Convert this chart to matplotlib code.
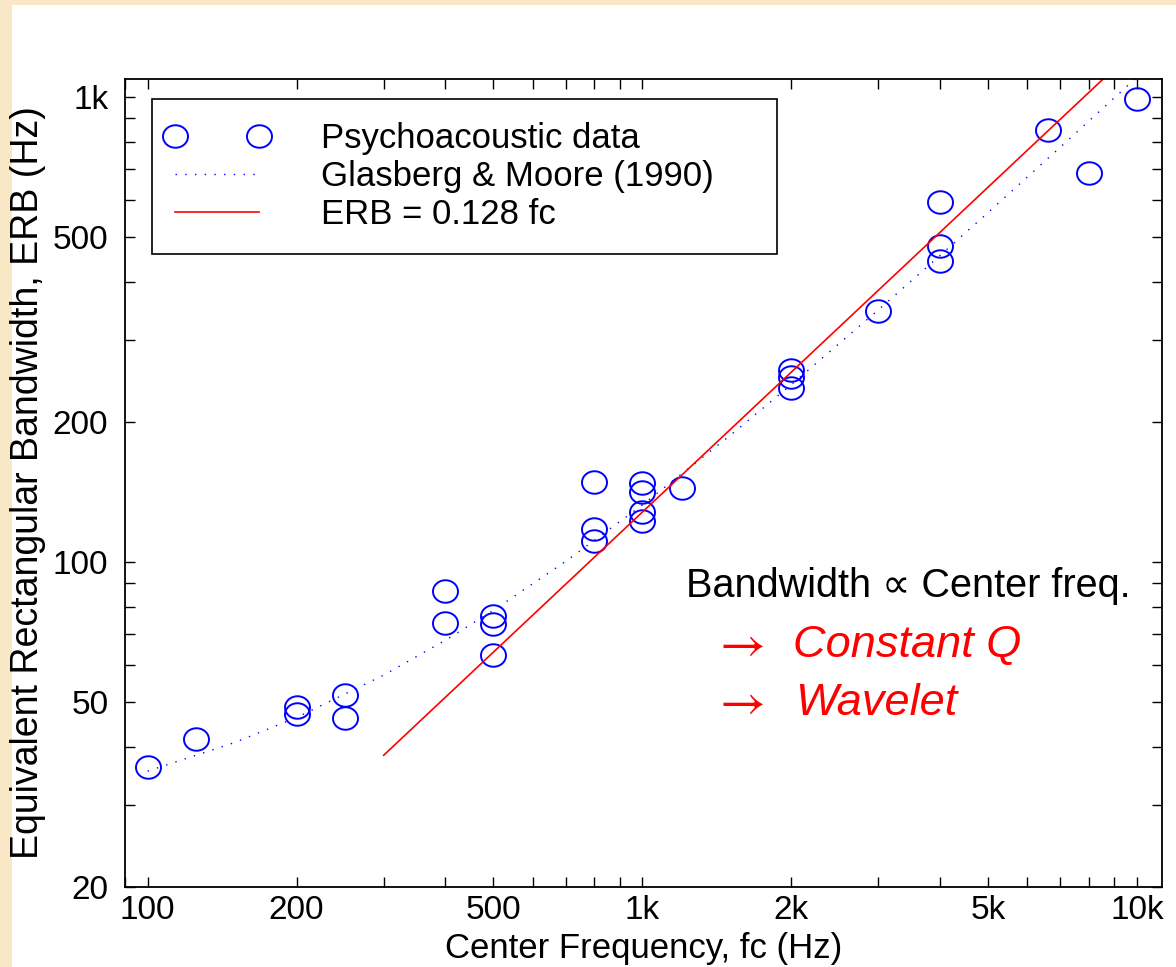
import matplotlib
matplotlib.use("Agg")
import matplotlib.pyplot as plt
import numpy as np
from matplotlib.patches import Rectangle
from matplotlib.path import Path
from matplotlib.lines import Line2D
from matplotlib.legend_handler import HandlerLine2D

plt.rcParams['font.family'] = ['Liberation Sans', 'DejaVu Sans']

# psychoacoustic ERB measurements (Hz)
data_fc = [100, 125, 200, 200, 250, 250, 400, 400, 500, 500, 500,
           800, 800, 800, 1000, 1000, 1000, 1000, 1200,
           2000, 2000, 2000, 3000, 4000, 4000, 4000, 6600, 8000, 10000]
data_erb = [36.2, 41.6, 48.8, 47.1, 51.7, 46.2, 86.6, 73.9, 76.5, 73.5, 63.1,
            148.6, 117.8, 111.0, 147.9, 141.4, 128.1, 122.6, 144.2,
            259.0, 250.0, 237.0, 346.0, 594.0, 478.0, 444.0, 849.0, 686.0, 990.0]

# Glasberg & Moore (1990) curve
gm_fc = [100, 150, 200, 300, 400, 500, 700, 1000, 1500, 2000,
         3000, 4000, 5000, 7000, 10000]
gm_erb = [35.5, 40.9, 46.3, 57.1, 67.9, 78.7, 100.3, 132.6, 186.6, 240.6,
          348.5, 456.5, 564.4, 780.3, 1104.0]

# constant-Q line, ERB = 0.128 fc
q_factor = 0.128
q_fc = np.array([300, 10000])

xticks = [100, 200, 500, 1000, 2000, 5000, 10000]
xticklabels = ['100', '200', '500', '1k', '2k', '5k', '10k']
yticks = [20, 50, 100, 200, 500, 1000]
yticklabels = ['20', '50', '100', '200', '500', '1k']

W, H = 1176, 967
fig = plt.figure(figsize=(W / 100, H / 100), dpi=100)
fig.patch.set_facecolor('#f9e8c6')
fig.add_artist(Rectangle((12 / W, 0), 1, (H - 5) / H, transform=fig.transFigure,
                         facecolor='white', edgecolor='none', zorder=0))

ax = fig.add_axes([125 / W, 1 - 887 / H, (1162 - 125) / W, (887 - 79) / H])
ax.set_xscale('log')
ax.set_yscale('log')

# slightly wide open ellipse marker
t = np.linspace(0, 2 * np.pi, 60)
ellipse = Path(np.column_stack([np.cos(t), 0.9 * np.sin(t)]), closed=True)

ax.plot(data_fc, data_erb, linestyle='none', marker=ellipse, ms=18,
        mfc='none', mec='#0000ff', mew=1.4, label='Psychoacoustic data')
ax.plot(gm_fc, gm_erb, color='#0000ff', lw=1.0, linestyle=(0, (1, 6)),
        label='Glasberg & Moore (1990)')
ax.plot(q_fc, q_factor * q_fc, color='#ff0000', lw=1.2, label='ERB = 0.128 fc')

ax.set_xlim(90, 11230)
ax.set_ylim(20, 1093)

ax.set_xticks(xticks)
ax.set_xticklabels(xticklabels)
ax.set_yticks(yticks)
ax.set_yticklabels(yticklabels)
ax.tick_params(which='both', direction='in', top=True, right=True,
               length=7, width=1.0, color='black')
ax.tick_params(axis='x', which='major', labelsize=24, pad=6)
ax.tick_params(axis='y', which='major', labelsize=24, pad=12)
for s in ax.spines.values():
    s.set_linewidth(1.3)

ax.set_xlabel('Center Frequency, fc (Hz)', fontsize=25)
ax.set_ylabel('Equivalent Rectangular Bandwidth, ERB (Hz)', fontsize=27)
ax.xaxis.set_label_coords(0.5, -0.056)
ax.yaxis.set_label_coords(-0.076, 0.5)

leg = ax.legend(loc='upper left', bbox_to_anchor=(0.026, 0.0, 0.603, 0.975),
                mode='expand', borderaxespad=0, fontsize=25, numpoints=2,
                handlelength=2.42, handletextpad=1.78, labelspacing=0.14,
                borderpad=0.66, fancybox=False, framealpha=1,
                handler_map={Line2D: HandlerLine2D(marker_pad=0)})
leg.get_frame().set_edgecolor('black')
leg.get_frame().set_linewidth(1.2)

ax.text(0.541, 0.3725, 'Bandwidth \u221d Center freq.', transform=ax.transAxes,
        fontsize=28.5, ha='left', va='center')
for y, word, x in [(0.2995, 'Constant Q', 0.644), (0.2277, 'Wavelet', 0.646)]:
    ax.text(0.566, y, r'$\rightarrow$', transform=ax.transAxes, fontsize=36,
            color='#ff0000', ha='left', va='center', math_fontfamily='stix')
    ax.text(x, y, word, transform=ax.transAxes, fontsize=32.5, style='italic',
            color='#ff0000', ha='left', va='center')

fig.savefig('out.png', dpi=100, facecolor=fig.get_facecolor())
